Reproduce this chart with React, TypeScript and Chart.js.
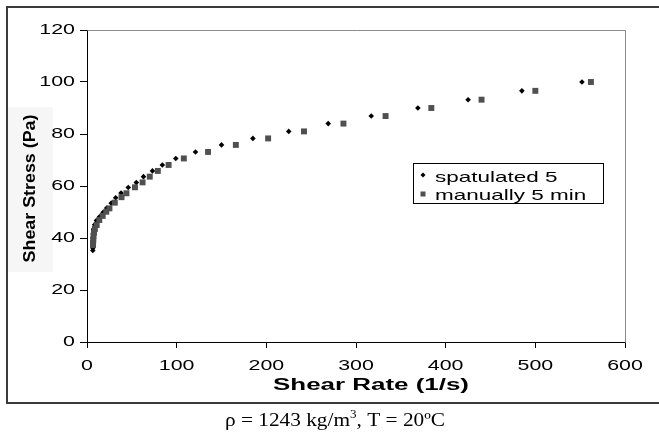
import React, { useEffect, useRef } from 'react';
import { Chart, registerables } from 'chart.js';

Chart.register(...registerables);

// ---- data ----
const seriesLabels = ['spatulated 5', 'manually 5 min'];

const spatulatedRate = [552, 485, 425, 369, 317, 269, 225, 185, 150, 121, 99, 84, 73, 63, 55, 46, 38, 32, 27, 22, 18, 14, 10.5, 8.5, 7.3, 6.8, 6.6, 6.5, 6.5, 6.5, 6.5];
const spatulatedStress = [100, 96.6, 93.2, 90.0, 86.9, 84.0, 81.0, 78.3, 75.8, 73.1, 70.6, 68.1, 65.8, 63.6, 61.3, 59.4, 57.3, 55.5, 53.4, 51.5, 49.9, 48.2, 46.7, 45.1, 43.4, 41.8, 40.2, 38.8, 37.3, 36.2, 35.2];

const manualRate = [562, 500, 440, 384, 333, 286, 242, 202, 166, 135, 108, 91, 79, 70, 62, 53.5, 44, 38.5, 31, 25, 21.5, 17.5, 13.7, 10.8, 8.8, 7.8, 7.2, 7.0, 6.8, 6.7];
const manualStress = [100, 96.6, 93.2, 90.0, 86.9, 84.0, 81.0, 78.3, 75.8, 73.1, 70.6, 68.1, 65.8, 63.6, 61.4, 59.5, 57.2, 55.7, 53.6, 51.4, 50.1, 48.5, 46.9, 45.0, 43.5, 42.0, 40.6, 39.3, 38.2, 37.3];

const xTickValues = [0, 100, 200, 300, 400, 500, 600];
const yTickValues = [0, 20, 40, 60, 80, 100, 120];

const xTitle = 'Shear Rate (1/s)';
const yTitle = 'Shear Stress (Pa)';
const captionParts = ['ρ = 1243 kg/m', '3', ', T = 20ºC'];

const spatColor = '#000000';
const manColor = '#505050';

function stretchedText(
  ctx: CanvasRenderingContext2D,
  text: string,
  x: number,
  y: number,
  font: string,
  sx: number,
  align: CanvasTextAlign,
  baseline: CanvasTextBaseline,
  color = '#000'
) {
  ctx.save();
  ctx.translate(x, y);
  ctx.scale(sx, 1);
  ctx.font = font;
  ctx.textAlign = align;
  ctx.textBaseline = baseline;
  ctx.fillStyle = color;
  ctx.fillText(text, 0, 0);
  ctx.restore();
}

const decorPlugin = {
  id: 'decor',
  beforeDraw(chart: any) {
    const ctx: CanvasRenderingContext2D = chart.ctx;
    ctx.save();
    ctx.fillStyle = '#ffffff';
    ctx.fillRect(0, 0, chart.width, chart.height);
    // faint panel behind the y title
    ctx.fillStyle = '#f6f6f6';
    ctx.fillRect(8, 107, 45, 165);
    ctx.restore();
  },
  afterDraw(chart: any) {
    const ctx: CanvasRenderingContext2D = chart.ctx;
    const area = chart.chartArea;
    const xs = chart.scales.x;
    const ys = chart.scales.y;

    // outer frame
    ctx.save();
    ctx.strokeStyle = '#3a3a3a';
    ctx.lineWidth = 2;
    ctx.strokeRect(7, 7, 720, 396);
    ctx.restore();

    // top & right plot border (grey)
    ctx.save();
    ctx.strokeStyle = '#8a8a8a';
    ctx.lineWidth = 1;
    ctx.beginPath();
    ctx.moveTo(Math.round(area.left) + 0.5, Math.round(area.top) + 0.5);
    ctx.lineTo(Math.round(area.right) + 0.5, Math.round(area.top) + 0.5);
    ctx.lineTo(Math.round(area.right) + 0.5, Math.round(area.bottom) + 0.5);
    ctx.stroke();
    ctx.restore();

    const tickFont = '15.5px "Liberation Sans", Arial, sans-serif';
    // x tick labels
    xs.ticks.forEach((t: any) => {
      const px = xs.getPixelForValue(t.value);
      stretchedText(ctx, String(t.value), px, 366, tickFont, 1.38, 'center', 'middle');
    });
    // y tick labels
    ys.ticks.forEach((t: any) => {
      const py = ys.getPixelForValue(t.value);
      stretchedText(ctx, String(t.value), 75, py, tickFont, 1.38, 'right', 'middle');
    });

    // x title
    stretchedText(ctx, xTitle, 371, 390, 'bold 16px "Liberation Sans", Arial, sans-serif', 1.62, 'center', 'alphabetic');

    // y title (rotated)
    ctx.save();
    ctx.translate(35, 188.5);
    ctx.rotate(-Math.PI / 2);
    ctx.scale(1.05, 1);
    ctx.font = 'bold 17px "Liberation Sans", Arial, sans-serif';
    ctx.textAlign = 'center';
    ctx.textBaseline = 'alphabetic';
    ctx.fillStyle = '#000';
    ctx.fillText(yTitle, 0, 0);
    ctx.restore();

    // legend
    ctx.save();
    ctx.strokeStyle = '#000';
    ctx.lineWidth = 1;
    ctx.strokeRect(413.5, 163.5, 190, 40);
    const ds = chart.data.datasets;
    ctx.fillStyle = ds[0].backgroundColor;
    ctx.beginPath();
    ctx.moveTo(423, 172.5);
    ctx.lineTo(425.5, 175);
    ctx.lineTo(423, 177.5);
    ctx.lineTo(420.5, 175);
    ctx.closePath();
    ctx.fill();
    ctx.fillStyle = ds[1].backgroundColor;
    ctx.fillRect(420.5, 191.5, 5, 5);
    ctx.restore();
    const legFont = '14.5px "Liberation Sans", Arial, sans-serif';
    stretchedText(ctx, ds[0].label, 435, 181.5, legFont, 1.55, 'left', 'alphabetic');
    stretchedText(ctx, ds[1].label, 435, 200, legFont, 1.55, 'left', 'alphabetic');

    // caption
    ctx.save();
    const capFont = '19.5px "Liberation Serif", "Times New Roman", serif';
    const supFont = '12px "Liberation Serif", "Times New Roman", serif';
    ctx.font = capFont;
    const w1 = ctx.measureText(captionParts[0]).width;
    const w3 = ctx.measureText(captionParts[2]).width;
    ctx.font = supFont;
    const w2 = ctx.measureText(captionParts[1]).width;
    const total = w1 + w2 + w3;
    const sx = 220 / total;
    ctx.translate(225, 426);
    ctx.scale(sx, 1);
    ctx.fillStyle = '#000';
    ctx.textAlign = 'left';
    ctx.textBaseline = 'alphabetic';
    ctx.font = capFont;
    ctx.fillText(captionParts[0], 0, 0);
    ctx.font = supFont;
    ctx.fillText(captionParts[1], w1, -8);
    ctx.font = capFont;
    ctx.fillText(captionParts[2], w1 + w2, 0);
    ctx.restore();
  },
};

export default function App() {
  const ref = useRef<HTMLCanvasElement>(null);

  useEffect(() => {
    if (!ref.current) return;
    const spatData = spatulatedRate.map((x, i) => ({ x, y: spatulatedStress[i] }));
    const manData = manualRate.map((x, i) => ({ x, y: manualStress[i] }));
    const chart = new Chart(ref.current, {
      type: 'scatter',
      data: {
        datasets: [
          {
            label: seriesLabels[0],
            data: spatData,
            pointStyle: 'rectRot',
            pointRadius: 2.8,
            backgroundColor: spatColor,
            borderColor: spatColor,
            borderWidth: 0,
            order: 1,
          },
          {
            label: seriesLabels[1],
            data: manData,
            pointStyle: 'rect',
            pointRadius: 4.2,
            backgroundColor: manColor,
            borderColor: manColor,
            borderWidth: 0,
            order: 0,
          },
        ],
      },
      options: {
        responsive: false,
        animation: false,
        events: [],
        layout: { padding: { left: 0, top: 30, right: 34, bottom: 0 } },
        plugins: {
          legend: { display: false },
          tooltip: { enabled: false },
          title: { display: false },
        },
        scales: {
          x: {
            type: 'linear',
            position: 'bottom',
            min: 0,
            max: 600,
            afterBuildTicks: (s: any) => {
              s.ticks = xTickValues.map((v) => ({ value: v }));
            },
            afterFit: (s: any) => {
              s.height = 94;
            },
            ticks: { display: false },
            grid: { drawOnChartArea: false, drawTicks: true, tickLength: 6, color: '#000' },
            border: { display: true, color: '#000', width: 1 },
          },
          y: {
            type: 'linear',
            position: 'left',
            min: 0,
            max: 120,
            afterBuildTicks: (s: any) => {
              s.ticks = yTickValues.map((v) => ({ value: v }));
            },
            afterFit: (s: any) => {
              s.width = 87;
            },
            ticks: { display: false },
            grid: { drawOnChartArea: false, drawTicks: true, tickLength: 7, color: '#000' },
            border: { display: true, color: '#000', width: 1 },
          },
        },
      } as any,
      plugins: [decorPlugin],
    });
    return () => chart.destroy();
  }, []);

  return (
    <div style={{ position: 'absolute', left: 0, top: 0, width: 659, height: 436 }}>
      <canvas ref={ref} width={659} height={436} style={{ display: 'block' }} />
    </div>
  );
}
